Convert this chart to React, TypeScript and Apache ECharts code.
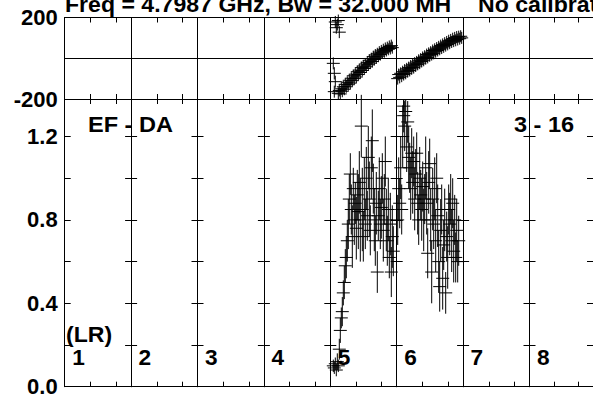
import React, { useEffect, useRef } from "react";
import * as echarts from "echarts";

const TITLE = "Freq = 4.7987 GHz, Bw = 32.000 MH";
const TITLE2 = "No calibration";
const BASELINE = "EF - DA";
const CHANNELS = "3 - 16";
const POL = "(LR)";
const PANELS = ["1", "2", "3", "4", "5", "6", "7", "8"];

const PHASE_MIN = -200;
const PHASE_MAX = 200;
const PHASE_STEP = 200;
const AMP_MIN = 0;
const AMP_MAX = 1.38;
const AMP_STEP = 0.2;
const AMP_LABEL_STEP = 0.4;
const TIME_MAX = 66.4;
const TIME_STEP = 25.7;

// [time within panel, value, error]
const amp5: number[][] = [
  [3, 0.10, 0.03], [4, 0.09, 0.02], [5, 0.11, 0.03], [6, 0.08, 0.03], [7, 0.12, 0.04], [8, 0.10, 0.03],
  [9, 0.18, 0.05], [10, 0.27, 0.06], [11, 0.33, 0.05], [12, 0.36, 0.07], [13, 0.45, 0.06], [14, 0.50, 0.08],
  [15, 0.58, 0.08], [16, 0.62, 0.10], [17, 0.70, 0.10], [18, 0.78, 0.12], [19, 0.90, 0.12], [20, 1.02, 0.10],
  [21, 0.85, 0.12], [22, 0.72, 0.15], [23, 0.95, 0.10], [24, 0.80, 0.12], [25, 0.88, 0.10], [26, 0.76, 0.15],
  [27, 0.92, 0.12], [28, 0.84, 0.18], [29, 0.98, 0.15], [30, 0.80, 0.20], [31, 1.25, 0.15], [32, 0.85, 0.20],
  [33, 0.72, 0.12], [34, 0.95, 0.15], [35, 0.78, 0.12], [36, 1.00, 0.15], [37, 0.82, 0.12], [38, 1.10, 0.15],
  [39, 0.90, 0.18], [40, 0.75, 0.12], [41, 1.05, 0.15], [42, 1.18, 0.15], [43, 0.95, 0.12], [44, 0.80, 0.15],
  [45, 0.70, 0.12], [46, 0.88, 0.15], [47, 0.55, 0.10], [48, 0.82, 0.12], [49, 0.95, 0.15], [50, 0.78, 0.12],
  [51, 0.86, 0.15], [52, 1.00, 0.12], [53, 0.75, 0.15], [54, 0.90, 0.12], [55, 1.08, 0.12], [56, 0.80, 0.15],
  [57, 0.70, 0.12], [58, 0.85, 0.15], [59, 0.62, 0.10], [60, 0.78, 0.15], [61, 0.55, 0.12], [62, 0.72, 0.15],
  [63, 0.65, 0.12],
];

const amp6: number[][] = [
  [1, 0.80, 0.12], [2, 0.95, 0.15], [3, 0.88, 0.12], [4, 1.05, 0.15], [5, 0.85, 0.12], [6, 1.20, 0.15],
  [7, 1.30, 0.08], [8, 1.25, 0.12], [9, 1.32, 0.06], [10, 1.15, 0.12], [11, 1.27, 0.10], [12, 1.10, 0.15],
  [13, 1.05, 0.12], [14, 0.95, 0.15], [15, 1.12, 0.12], [16, 0.98, 0.15], [17, 1.08, 0.12], [18, 0.90, 0.15],
  [19, 1.02, 0.12], [20, 1.12, 0.10], [21, 0.88, 0.15], [22, 0.80, 0.12], [23, 1.00, 0.15], [24, 0.92, 0.12],
  [25, 0.85, 0.15], [26, 0.96, 0.12], [27, 0.80, 0.15], [28, 0.90, 0.12], [29, 1.05, 0.15], [30, 0.88, 0.15],
  [31, 0.64, 0.12], [32, 0.98, 0.15], [33, 1.07, 0.12], [34, 0.80, 0.15], [35, 0.55, 0.15], [36, 0.90, 0.15],
  [37, 0.78, 0.12], [38, 0.95, 0.15], [39, 0.70, 0.15], [40, 1.00, 0.12], [41, 0.82, 0.15], [42, 0.60, 0.15],
  [43, 0.48, 0.12], [44, 0.75, 0.15], [45, 0.85, 0.12], [46, 0.52, 0.15], [47, 0.68, 0.12], [48, 0.80, 0.15],
  [49, 0.45, 0.10], [50, 0.72, 0.12], [51, 0.62, 0.15], [52, 0.85, 0.12], [53, 0.78, 0.15], [54, 0.90, 0.12],
  [55, 0.70, 0.15], [56, 0.88, 0.12], [57, 0.65, 0.15], [58, 0.80, 0.12], [59, 0.62, 0.12], [60, 0.75, 0.15],
  [61, 0.60, 0.10], [62, 0.70, 0.12],
];

const phase5: number[][] = [
  [5, 178, 8], [7, 165, 10], [8, 185, 8], [6, 150, 10], [9, 128, 8],
  [3, -25, 15], [4, -74, 30], [5, -115, 20], [4, -164, 15],
  [8, -172, 15], [9, -158, 20], [10, -175, 15], [11, -150, 22], [12, -162, 15], [13, -140, 20],
  [14, -152, 18], [15, -128, 22], [16, -140, 15], [17, -118, 20], [18, -130, 18], [19, -108, 22],
  [20, -122, 15], [21, -98, 20], [22, -110, 18], [23, -86, 22], [24, -100, 15], [25, -78, 20],
  [26, -92, 18], [27, -66, 22], [28, -80, 15], [29, -58, 20], [30, -70, 18], [31, -46, 22],
  [32, -60, 15], [33, -38, 20], [34, -50, 18], [35, -28, 22], [36, -42, 15], [37, -20, 20],
  [38, -32, 18], [39, -10, 22], [40, -24, 15], [41, -2, 20], [42, -16, 18], [43, 8, 22],
  [44, -6, 15], [45, 16, 20], [46, 2, 18], [47, 22, 22], [48, 10, 15], [49, 30, 20],
  [50, 18, 18], [51, 36, 22], [52, 26, 15], [53, 42, 20], [54, 32, 18], [55, 48, 22],
  [56, 38, 15], [57, 52, 20], [58, 44, 18], [59, 58, 22], [60, 48, 15], [61, 62, 20], [62, 52, 18],
];

const phase6: number[][] = [
  [7, -235, 6],
  [1, -100, 15], [2, -80, 20], [3, -94, 18], [4, -74, 22], [5, -88, 15], [6, -66, 20],
  [7, -80, 18], [8, -58, 22], [9, -74, 15], [10, -52, 20], [11, -66, 18], [12, -46, 22],
  [13, -60, 15], [14, -38, 20], [15, -52, 18], [16, -32, 22], [17, -46, 15], [18, -24, 20],
  [19, -38, 18], [20, -18, 22], [21, -30, 15], [22, -10, 20], [23, -24, 18], [24, -4, 22],
  [25, -16, 15], [26, 4, 20], [27, -10, 18], [28, 10, 22], [29, -2, 15], [30, 18, 20],
  [31, 4, 18], [32, 24, 22], [33, 12, 15], [34, 30, 20], [35, 18, 18], [36, 38, 22],
  [37, 24, 15], [38, 44, 20], [39, 32, 18], [40, 50, 22], [41, 38, 15], [42, 56, 20],
  [43, 44, 18], [44, 62, 22], [45, 50, 15], [46, 68, 20], [47, 56, 18], [48, 74, 22],
  [49, 62, 15], [50, 80, 20], [51, 68, 18], [52, 86, 22], [53, 74, 15], [54, 90, 20],
  [55, 80, 18], [56, 96, 22], [57, 84, 15], [58, 100, 20], [59, 88, 18], [60, 104, 22],
  [61, 92, 15], [62, 106, 20], [63, 96, 18], [64, 108, 22], [65, 100, 15],
];

const AMP_BY_PANEL: Record<number, number[][]> = { 4: amp5, 5: amp6 };
const PHASE_BY_PANEL: Record<number, number[][]> = { 4: phase5, 5: phase6 };

const FONT = '"Liberation Sans", Arial, sans-serif';
const LEFT = 64.7;
const PW = 66.4;
const TOP_T = 17.5;
const TOP_H = 81.5;
const BOT_T = 99;
const BOT_H = 287.7;

function renderCross(params: any, api: any) {
  const x = api.value(0);
  const v = api.value(1);
  const e = api.value(2);
  const c = api.coord([x, v]);
  const hi = api.coord([x, v + e]);
  const lo = api.coord([x, v - e]);
  const half = 6.5;
  const y1 = Math.min(hi[1], c[1] - 6);
  const y2 = Math.max(lo[1], c[1] + 6);
  const style = { stroke: "#000", lineWidth: 1 };
  return {
    type: "group",
    children: [
      { type: "line", shape: { x1: c[0] - half, y1: c[1], x2: c[0] + half, y2: c[1] }, style },
      { type: "line", shape: { x1: c[0], y1, x2: c[0], y2 }, style },
    ],
  };
}

function isMultiple(v: number, step: number) {
  const r = v / step;
  return Math.abs(r - Math.round(r)) < 1e-6;
}

export default function App() {
  const ref = useRef<HTMLDivElement>(null);
  useEffect(() => {
    if (!ref.current) return;
    const chart = echarts.init(ref.current, undefined, { renderer: "svg" });
    const grid: any[] = [];
    const xAxis: any[] = [];
    const yAxis: any[] = [];
    const series: any[] = [];
    const lineStyle = { color: "#000", width: 1 };
    const labelStyle = { color: "#000", fontSize: 22, fontWeight: "bold", fontFamily: FONT, margin: 7 };

    for (let r = 0; r < 2; r++) {
      for (let i = 0; i < PANELS.length; i++) {
        const g = r * PANELS.length + i;
        grid.push({
          left: LEFT + i * PW,
          width: PW,
          top: r === 0 ? TOP_T : BOT_T,
          height: r === 0 ? TOP_H : BOT_H,
          containLabel: false,
        });
        for (const pos of ["bottom", "top"]) {
          xAxis.push({
            type: "value",
            gridIndex: g,
            position: pos,
            min: 0,
            max: TIME_MAX,
            interval: TIME_STEP,
            axisLine: { show: true, onZero: false, lineStyle },
            axisTick: { show: true, inside: true, length: 5, lineStyle },
            axisLabel: { show: false },
            splitLine: { show: false },
          });
        }
        for (const pos of ["left", "right"]) {
          const showLabel = i === 0 && pos === "left";
          if (r === 0) {
            yAxis.push({
              type: "value",
              gridIndex: g,
              position: pos,
              min: PHASE_MIN,
              max: PHASE_MAX,
              interval: PHASE_STEP,
              axisLine: { show: true, onZero: false, lineStyle },
              axisTick: { show: true, inside: true, length: 6, lineStyle },
              axisLabel: {
                show: showLabel,
                showMinLabel: true,
                showMaxLabel: true,
                ...labelStyle,
                formatter: (v: number) => (v === 0 ? "" : String(v)),
              },
              splitLine: { show: pos === "left", lineStyle },
            });
          } else {
            yAxis.push({
              type: "value",
              gridIndex: g,
              position: pos,
              min: AMP_MIN,
              max: AMP_MAX,
              interval: AMP_STEP,
              axisLine: { show: true, onZero: false, lineStyle },
              axisTick: { show: true, inside: true, length: 6, lineStyle },
              axisLabel: {
                show: showLabel,
                showMinLabel: true,
                showMaxLabel: true,
                ...labelStyle,
                formatter: (v: number) => (isMultiple(v, AMP_LABEL_STEP) ? v.toFixed(1) : ""),
              },
              splitLine: { show: false },
            });
          }
        }
        const data = r === 0 ? PHASE_BY_PANEL[i] : AMP_BY_PANEL[i];
        if (data) {
          series.push({
            type: "custom",
            xAxisIndex: 2 * g,
            yAxisIndex: 2 * g,
            clip: false,
            encode: { x: 0, y: 1 },
            data,
            renderItem: renderCross,
          });
        }
      }
    }

    const textEl = (text: string, x: number, y: number, sx: number) => ({
      type: "text",
      x,
      y,
      scaleX: sx,
      style: {
        text,
        fill: "#000",
        font: `bold 22px ${FONT}`,
        textAlign: "left",
        verticalAlign: "middle",
      },
    });

    const graphic: any[] = [
      textEl(TITLE, 65, 4.5, 1.05),
      textEl(TITLE2, 478, 4.5, 1.05),
      textEl(BASELINE, 88, 124, 1.07),
      textEl(CHANNELS, 514, 124, 1.07),
      textEl(POL, 66, 334.5, 1.05),
    ];
    PANELS.forEach((p, i) => {
      graphic.push(textEl(p, LEFT + i * PW + 7.5, 357.5, 1.03));
    });

    chart.setOption({
      animation: false,
      backgroundColor: "#fff",
      grid,
      xAxis,
      yAxis,
      series,
      graphic,
    });
    return () => chart.dispose();
  }, []);
  return (
    <div
      ref={ref}
      style={{ position: "fixed", left: 0, top: 0, width: 593, height: 398, background: "#fff" }}
    />
  );
}
